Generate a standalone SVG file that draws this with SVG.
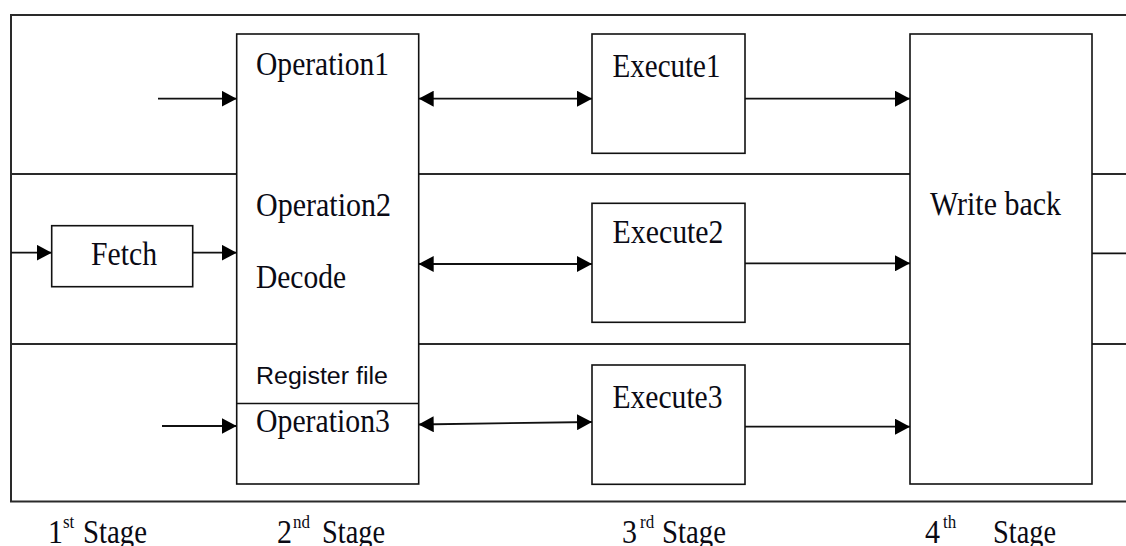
<svg xmlns="http://www.w3.org/2000/svg" width="1126" height="546" viewBox="0 0 1126 546">
  <style>
    .frame { fill: none; stroke: #2a2a2a; stroke-width: 2; }
    .box { fill: #fff; stroke: #111; stroke-width: 1.6; }
    .conn { fill: none; stroke: #111; stroke-width: 1.8; }
    .lbl { font-family: "Liberation Serif", "Times New Roman", serif; font-size: 30px; fill: #0a0a14; }
    .sans { font-family: "Liberation Sans", Arial, sans-serif; font-size: 23.5px; fill: #0a0a14; }
    .sup { font-family: "Liberation Serif", "Times New Roman", serif; font-size: 17px; fill: #0a0a14; }
  </style>
  <defs>
    <marker id="head" markerUnits="userSpaceOnUse" markerWidth="15" markerHeight="16" refX="15" refY="8" orient="auto-start-reverse">
      <path d="M0,0 L15,8 L0,16 Z" fill="#000"/>
    </marker>
  </defs>
  <rect width="1126" height="546" fill="#fff"/>

  <!-- outer frame and row dividers -->
  <g id="frame">
    <path class="frame" d="M1126,15 H11 V501.5 H1126"/>
    <line class="frame" x1="11" y1="174" x2="1126" y2="174"/>
    <line class="frame" x1="11" y1="344" x2="1126" y2="344"/>
  </g>

  <!-- stage 1 -->
  <g id="fetch">
    <rect class="box" x="51.7" y="225.7" width="141" height="61"/>
    <text class="lbl" transform="translate(91,265) scale(1,1.12)" textLength="66" lengthAdjust="spacingAndGlyphs">Fetch</text>
  </g>

  <!-- stage 2 -->
  <g id="operation">
    <rect class="box" x="236.7" y="34" width="182" height="450"/>
    <line class="box" x1="236.7" y1="403.5" x2="418.7" y2="403.5"/>
    <text class="lbl" transform="translate(256,75) scale(1,1.12)" textLength="133" lengthAdjust="spacingAndGlyphs">Operation1</text>
    <text class="lbl" transform="translate(256,216) scale(1,1.12)" textLength="135" lengthAdjust="spacingAndGlyphs">Operation2</text>
    <text class="lbl" transform="translate(256,288) scale(1,1.12)" textLength="90" lengthAdjust="spacingAndGlyphs">Decode</text>
    <text class="sans" x="256" y="384" textLength="132" lengthAdjust="spacingAndGlyphs">Register file</text>
    <text class="lbl" transform="translate(256,432) scale(1,1.12)" textLength="134" lengthAdjust="spacingAndGlyphs">Operation3</text>
  </g>

  <!-- stage 3 -->
  <g id="execute1">
    <rect class="box" x="592" y="34" width="153" height="119.3"/>
    <text class="lbl" transform="translate(612.5,77) scale(1,1.12)" textLength="108" lengthAdjust="spacingAndGlyphs">Execute1</text>
  </g>
  <g id="execute2">
    <rect class="box" x="592" y="203.3" width="153" height="119"/>
    <text class="lbl" transform="translate(612.5,243) scale(1,1.12)" textLength="111" lengthAdjust="spacingAndGlyphs">Execute2</text>
  </g>
  <g id="execute3">
    <rect class="box" x="592" y="365" width="153" height="119.3"/>
    <text class="lbl" transform="translate(612.5,408) scale(1,1.12)" textLength="110" lengthAdjust="spacingAndGlyphs">Execute3</text>
  </g>

  <!-- stage 4 -->
  <g id="writeback">
    <rect class="box" x="910" y="34" width="182" height="450"/>
    <text class="lbl" transform="translate(930,215) scale(1,1.12)" textLength="131" lengthAdjust="spacingAndGlyphs">Write back</text>
  </g>

  <!-- connectors -->
  <g id="connectors">
    <line class="conn" x1="158" y1="98.7" x2="236.7" y2="98.7" marker-end="url(#head)"/>
    <line class="conn" x1="11" y1="252.7" x2="51.7" y2="252.7" marker-end="url(#head)"/>
    <line class="conn" x1="192.7" y1="252.7" x2="236.7" y2="252.7" marker-end="url(#head)"/>
    <line class="conn" x1="162" y1="426" x2="236.7" y2="426" marker-end="url(#head)"/>

    <line class="conn" x1="418.7" y1="98.7" x2="592" y2="98.7" marker-start="url(#head)" marker-end="url(#head)"/>
    <line class="conn" x1="418.7" y1="264" x2="592" y2="264" marker-start="url(#head)" marker-end="url(#head)"/>
    <line class="conn" x1="418.7" y1="424.5" x2="592" y2="422" marker-start="url(#head)" marker-end="url(#head)"/>

    <line class="conn" x1="745" y1="98.7" x2="910" y2="98.7" marker-end="url(#head)"/>
    <line class="conn" x1="745" y1="263.3" x2="910" y2="263.3" marker-end="url(#head)"/>
    <line class="conn" x1="745" y1="426.7" x2="910" y2="426.7" marker-end="url(#head)"/>

    <line class="conn" x1="1092" y1="253.3" x2="1126" y2="253.3"/>
  </g>

  <!-- stage captions -->
  <g id="captions">
    <text class="lbl" transform="translate(48,543) scale(1,1.15)">1</text>
    <text class="sup" transform="translate(63,528) scale(1,1.15)">st</text>
    <text class="lbl" transform="translate(83,543) scale(1,1.15)" textLength="64" lengthAdjust="spacingAndGlyphs">Stage</text>

    <text class="lbl" transform="translate(277,543) scale(1,1.15)">2</text>
    <text class="sup" transform="translate(293,528) scale(1,1.15)">nd</text>
    <text class="lbl" transform="translate(322,543) scale(1,1.15)" textLength="63" lengthAdjust="spacingAndGlyphs">Stage</text>

    <text class="lbl" transform="translate(622,543) scale(1,1.15)">3</text>
    <text class="sup" transform="translate(640,528) scale(1,1.15)">rd</text>
    <text class="lbl" transform="translate(662,543) scale(1,1.15)" textLength="64" lengthAdjust="spacingAndGlyphs">Stage</text>

    <text class="lbl" transform="translate(925,543) scale(1,1.15)">4</text>
    <text class="sup" transform="translate(943,528) scale(1,1.15)">th</text>
    <text class="lbl" transform="translate(993,543) scale(1,1.15)" textLength="63" lengthAdjust="spacingAndGlyphs">Stage</text>
  </g>
</svg>
